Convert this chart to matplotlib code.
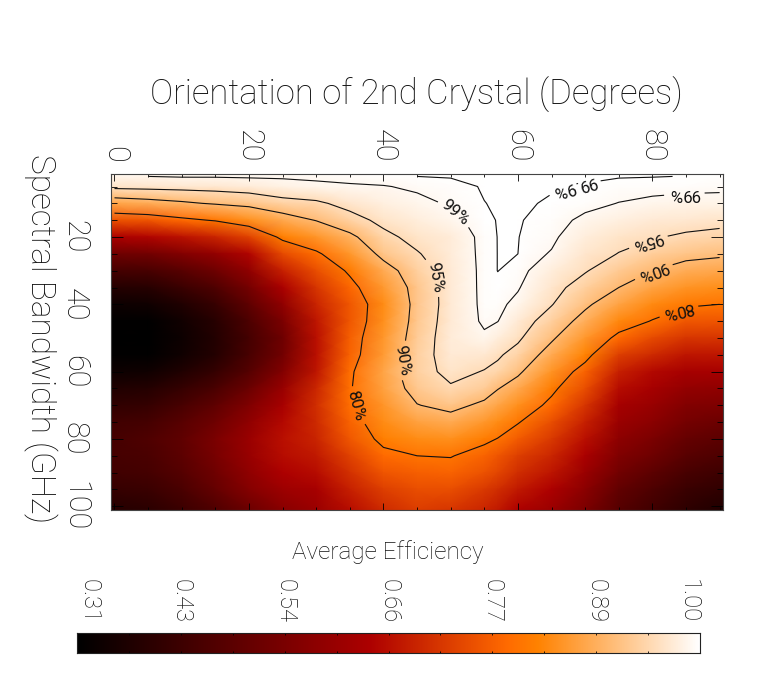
import numpy as np
import matplotlib

matplotlib.use('Agg')
import matplotlib.pyplot as plt
from matplotlib.colors import LinearSegmentedColormap

# orientation of the 2nd crystal (degrees) and spectral bandwidth (GHz)
orientation = [0, 5, 10, 15, 20, 25, 30, 35, 40, 45, 50, 55, 57, 60, 65, 70, 75, 80, 85, 90]
bandwidth = [2, 5, 10, 15, 20, 25, 30, 35, 40, 45, 50, 55, 60, 65, 70, 75, 80, 85, 90, 95, 100]

# one line per orientation, one value per bandwidth
efficiency_columns = [
    [.99, .961, .87, .75, .63, .515, .44, .38, .335, .315, .31, .315, .335, .37, .40, .43, .44, .44, .43, .41, .38],
    [.99, .963, .88, .76, .64, .525, .445, .385, .34, .315, .31, .315, .34, .38, .41, .44, .46, .45, .44, .42, .39],
    [.992, .965, .892, .785, .66, .555, .475, .42, .37, .345, .335, .34, .37, .41, .445, .475, .49, .485, .47, .45, .42],
    [.992, .967, .905, .805, .685, .585, .515, .46, .415, .385, .375, .38, .41, .45, .49, .52, .54, .535, .52, .50, .46],
    [.993, .972, .915, .84, .73, .64, .58, .53, .49, .455, .44, .445, .47, .51, .55, .58, .60, .595, .58, .56, .51],
    [.993, .98, .935, .875, .815, .74, .68, .63, .58, .54, .515, .525, .555, .595, .625, .645, .655, .65, .635, .605, .565],
    [.994, .985, .943, .902, .847, .79, .745, .71, .685, .665, .655, .655, .665, .69, .70, .695, .685, .67, .65, .625, .60],
    [.997, .987, .963, .935, .888, .85, .81, .78, .76, .76, .77, .775, .79, .795, .79, .775, .76, .73, .705, .68, .65],
    [.998, .989, .976, .96, .94, .915, .877, .853, .835, .84, .85, .855, .87, .865, .848, .835, .815, .785, .755, .725, .695],
    [.999, .993, .985, .975, .962, .947, .93, .919, .917, .92, .925, .93, .932, .92, .898, .865, .833, .80, .77, .745, .72],
    [.9994, .997, .992, .985, .973, .972, .969, .968, .968, .97, .972, .97, .962, .945, .915, .878, .84, .803, .775, .745, .71],
    [.9998, .9995, .9989, .9975, .997, .9965, .9965, .9965, .996, .994, .986, .965, .948, .925, .889, .851, .813, .775, .75, .715, .685],
    [.9999, .9997, .9995, .9993, .9991, .9991, .9991, .9975, .995, .9905, .975, .955, .94, .902, .87, .835, .798, .755, .735, .70, .67],
    [.9999, .9998, .9997, .9995, .9992, .999, .997, .992, .984, .97, .9565, .936, .909, .876, .84, .804, .765, .725, .70, .67, .635],
    [.9998, .9994, .9985, .9965, .994, .9885, .975, .9635, .952, .931, .907, .878, .845, .813, .785, .745, .715, .69, .665, .635, .60],
    [.9994, .9988, .995, .986, .975, .964, .953, .932, .909, .882, .85, .82, .775, .745, .71, .68, .655, .63, .60, .57, .54],
    [.9994, .997, .9895, .976, .96, .949, .924, .90, .866, .83, .785, .725, .68, .65, .62, .60, .575, .55, .525, .495, .47],
    [.9993, .9954, .986, .97, .953, .928, .90, .866, .832, .797, .74, .695, .645, .62, .595, .57, .54, .515, .485, .455, .43],
    [.9988, .995, .983, .965, .944, .914, .88, .844, .808, .76, .71, .665, .62, .585, .555, .53, .50, .475, .445, .42, .395],
    [.998, .9945, .982, .962, .9375, .9075, .873, .837, .80, .755, .71, .665, .62, .58, .545, .51, .48, .455, .425, .40, .37],
]

levels = [0.80, 0.90, 0.95, 0.99, 0.999]
level_names = {0.80: '80%', 0.90: '90%', 0.95: '95%', 0.99: '99%', 0.999: '99.9%'}
label_spots = [(68.5, 5.4), (84.8, 8.4), (79.3, 20.9), (80.1, 29.8), (83.9, 41.7),
               (50.3, 13.5), (47.7, 31.9), (42.5, 56.6), (35.3, 70.8)]
label_angles = [195, 180, 197, 200, 193, -40, -80, -80, -75]

bar_labels = ['0.31', '0.43', '0.54', '0.66', '0.77', '0.89', '1.00']

plt.rcParams['font.family'] = ['Roboto', 'DejaVu Sans']
plt.rcParams['font.weight'] = 'light'
ink = '#111111'

cmap = LinearSegmentedColormap.from_list('redtemp', [
    (0.0, (0, 0, 0)),
    (0.47, (173 / 255, 0, 0)),
    (0.69, (1, 106 / 255, 0)),
    (0.74, (1, 130 / 255, 0)),
    (1.0, (1, 1, 1)),
])

W, H = 777, 688
fig = plt.figure(figsize=(W / 100, H / 100), dpi=100)
ax = fig.add_axes([111 / W, 1 - 510 / H, 612 / W, 336.5 / H])

deg = np.array(orientation, dtype=float)
ghz = np.array(bandwidth, dtype=float)
eff = np.array(efficiency_columns).T

# the image reaches half a cell past the first and last samples
deg_edges = deg.copy()
deg_edges[0], deg_edges[-1] = -0.5, 90.5
ghz_edges = ghz.copy()
ghz_edges[0], ghz_edges[-1] = 1.1, 101.1
ax.pcolormesh(deg_edges, ghz_edges, eff, cmap=cmap, vmin=0.31, vmax=1.0, shading='gouraud')

cs = ax.contour(deg, ghz, eff, levels=levels, colors='#111111', linewidths=0.8)
labels = ax.clabel(cs, fmt=level_names, fontsize=12, inline=True, manual=label_spots)
for text, angle in zip(labels, label_angles):
    text.set_rotation(angle)
    text.set_color('#111111')
    text.set_fontweight('normal')

ax.set_xlim(-0.52, 90.5)
ax.set_ylim(101.1, 1.13)
ax.set_xticks(range(0, 81, 20))
ax.set_xticks(range(0, 91, 5), minor=True)
ax.set_yticks(range(20, 101, 20))
ax.set_yticks(range(5, 101, 5), minor=True)
ax.tick_params(axis='x', which='major', direction='in', top=True, bottom=True, labeltop=True,
               labelbottom=False, length=4.7, width=0.6, pad=8, labelsize=22, labelcolor=ink,
               labelrotation=-90)
ax.tick_params(axis='x', which='minor', direction='in', top=True, bottom=True, length=2.4, width=0.6)
ax.tick_params(axis='y', which='major', direction='in', left=True, right=True, length=8.6, width=0.6,
               pad=16, labelsize=22, labelcolor=ink, labelrotation=-90)
ax.tick_params(axis='y', which='minor', direction='in', left=True, right=True, length=4.3, width=0.6)
for label in ax.get_yticklabels():
    label.set_va('center')
for spine in ax.spines.values():
    spine.set_linewidth(0.8)
    spine.set_color('#444444')

fig.text(416 / W, 1 - 95 / H, 'Orientation of 2nd Crystal (Degrees)', ha='center', va='center',
         fontsize=25, color=ink)
fig.text(40 / W, 1 - 339 / H, 'Spectral Bandwidth (GHz)', ha='center', va='center',
         rotation=-90, fontsize=24, color=ink)
fig.text(388 / W, 1 - 552 / H, 'Average Efficiency', ha='center', va='center', fontsize=17.5, color=ink)

# colour bar
cax = fig.add_axes([77 / W, 1 - 653 / H, 623 / W, 20.3 / H])
cax.imshow(np.linspace(0.31, 1.0, 256).reshape(1, -1), cmap=cmap, vmin=0.31, vmax=1.0,
           extent=[0.31, 1.0, 0, 1], aspect='auto')
cax.set_yticks([])
cax.set_xticks(np.linspace(0.31, 1.0, len(bar_labels)))
cax.set_xticks(np.linspace(0.31, 1.0, 2 * len(bar_labels) - 1), minor=True)
cax.set_xticklabels(bar_labels)
cax.tick_params(axis='x', which='both', direction='in', top=True, bottom=True, labeltop=True,
                labelbottom=False, length=1.5, width=0.6, pad=7, labelsize=17, labelcolor=ink,
                labelrotation=-90)
bar_ticks = cax.get_xticklabels()
bar_ticks[0].set_ha('left')
bar_ticks[-1].set_ha('right')
for spine in cax.spines.values():
    spine.set_linewidth(0.8)
    spine.set_color('#222222')

fig.savefig('out.png', dpi=100)
